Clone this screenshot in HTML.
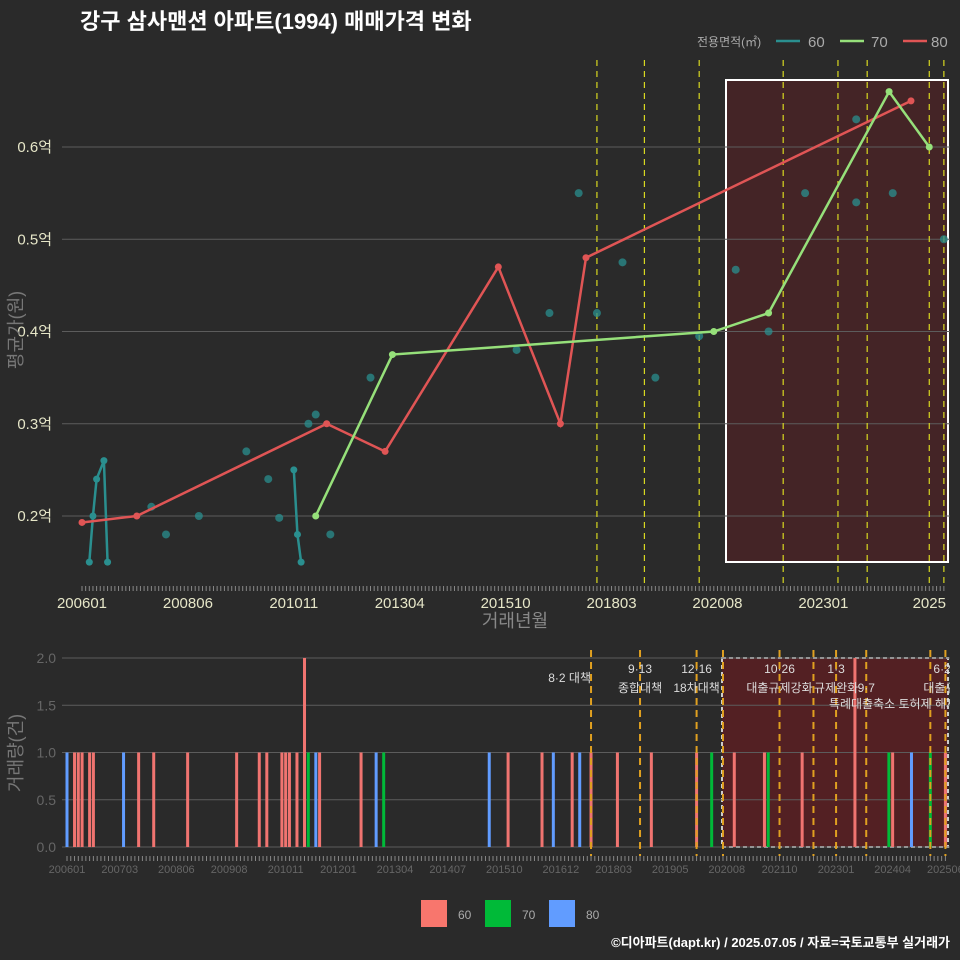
<!DOCTYPE html>
<html><head><meta charset="utf-8">
<style>
html,body{margin:0;padding:0;background:#2a2a2a;}
svg{display:block;font-family:"Liberation Sans","Noto Sans CJK KR",sans-serif;}
</style></head>
<body>
<svg id="c" width="960" height="960" viewBox="0 0 960 960">
<defs><clipPath id="clipb"><rect x="0" y="640" width="950" height="240"/></clipPath></defs>
<rect x="0" y="0" width="960" height="960" fill="#2a2a2a"/>
<text x="80" y="29" fill="#ffffff" font-size="22" font-weight="bold">강구 삼사맨션 아파트(1994) 매매가격 변화</text>
<g>
<text x="697" y="46" fill="#aaaaaa" font-size="12">전용면적(㎡)</text>
<line x1="776" y1="41" x2="800" y2="41" stroke="#2a8f8f" stroke-width="2.5"/>
<text x="808" y="47" fill="#aaaaaa" font-size="15">60</text>
<line x1="840" y1="41" x2="864" y2="41" stroke="#96e07a" stroke-width="2.5"/>
<text x="871" y="47" fill="#aaaaaa" font-size="15">70</text>
<line x1="903" y1="41" x2="927" y2="41" stroke="#e05555" stroke-width="2.5"/>
<text x="931" y="47" fill="#aaaaaa" font-size="15">80</text>
</g>
<g id="topg"></g>
<g id="botg"></g>
<text x="515" y="627" text-anchor="middle" fill="#888888" font-size="18">거래년월</text>
<text transform="translate(22,330) rotate(-90)" text-anchor="middle" fill="#777777" font-size="18">평균가(원)</text>
<text transform="translate(22,753) rotate(-90)" text-anchor="middle" fill="#777777" font-size="18">거래량(건)</text>
<g>
<rect x="421" y="900" width="26" height="27" fill="#f8766d"/>
<text x="458" y="919" fill="#aaaaaa" font-size="12">60</text>
<rect x="485" y="900" width="26" height="27" fill="#00ba38"/>
<text x="522" y="919" fill="#aaaaaa" font-size="12">70</text>
<rect x="549" y="900" width="26" height="27" fill="#619cff"/>
<text x="586" y="919" fill="#aaaaaa" font-size="12">80</text>
</g>
<text x="950" y="947" text-anchor="end" fill="#ffffff" font-size="13" font-weight="bold">©디아파트(dapt.kr) / 2025.07.05 / 자료=국토교통부 실거래가</text>
</svg>
<script>
const s80Months=[0,15,67,83,114,131,138,227];
const s80Values=[0.193,0.2,0.30,0.27,0.47,0.30,0.48,0.65];
const s70Months=[64,85,173,188,221,232];
const s70Values=[0.2,0.375,0.40,0.42,0.66,0.60];
const s60aMonths=[2,3,4,6,7];
const s60aValues=[0.15,0.2,0.24,0.26,0.15];
const s60bMonths=[58,59,60];
const s60bValues=[0.25,0.18,0.15];
const dotMonths=[19,23,32,45,51,54,62,64,68,79,119,128,136,141,148,157,169,179,188,198,212,212,222,236];
const dotValues=[0.21,0.18,0.2,0.27,0.24,0.198,0.3,0.31,0.18,0.35,0.38,0.42,0.55,0.42,0.475,0.35,0.395,0.467,0.40,0.55,0.63,0.54,0.55,0.50];
const yTicks=[0.2,0.3,0.4,0.5,0.6];
const yTickLabels=["0.2억","0.3억","0.4억","0.5억","0.6억"];
const xTickMonths=[0,29,58,87,116,145,174,203,232];
const xTickLabels=["200601","200806","201011","201304","201510","201803","202008","202301","2025"];
const policyTopMonths=[141,154,169,192,207,215,232,236];
const barMonths=[0,2,3,4,6,7,15,19,23,32,45,51,53,57,58,59,61,63,64,66,67,78,82,84,112,117,126,129,134,136,139,146,155,167,171,177,185,186,195,209,218,219,224,229,233];
const barCounts=[1,1,1,1,1,1,1,1,1,1,1,1,1,1,1,1,1,2,1,1,1,1,1,1,1,1,1,1,1,1,1,1,1,1,1,1,1,1,1,2,1,1,1,1,1];
const barTypes=["80","60","60","60","60","60","80","60","60","60","60","60","60","60","60","60","60","60","70","80","60","60","80","70","80","60","60","80","60","80","60","60","60","60","70","60","60","70","60","60","70","60","80","70","60"];
const volTicks=[0,0.5,1,1.5,2];
const volTickLabels=["0.0","0.5","1.0","1.5","2.0"];
const bxTickMonths=[0,14,29,43,58,72,87,101,116,131,145,160,175,189,204,219,233];
const bxTickLabels=["200601","200703","200806","200908","201011","201201","201304","201407","201510","201612","201803","201905","202008","202110","202301","202404","202506"];
const policyBotMonths=[139,152,167,174,189,198,204,212,229,233];
const annoMonths=[139,152,167,189,204,212,233];
const annoTop=["","9·13","12·16","10·26","1·3","","6·27"];
const annoBottom=["8·2 대책","종합대책","18차대책","대출규제강화","규제완화","9·7","대출규제"];

const NS="http://www.w3.org/2000/svg";
function mk(parent,tag,attrs){const e=document.createElementNS(NS,tag);for(const k in attrs)e.setAttribute(k,attrs[k]);parent.appendChild(e);return e;}
const tx=m=>82+3.652*m, ty=v=>516-(v-0.2)*922.5;
const bx=m=>67+3.77*m, by=v=>847-v*94.5;
const topG=document.getElementById('topg'), botG=document.getElementById('botg');

let r=mk(topG,'rect',{x:726,y:80,width:222,height:482,fill:'#5a1f22','fill-opacity':0.55,stroke:'#ffffff','stroke-width':2});


yTicks.forEach((v,i)=>{
  let l=mk(topG,'line',{x1:62,x2:950,y1:ty(v),y2:ty(v),stroke:'#5c5c5c','stroke-width':1});
  
  
  let t=mk(topG,'text',{x:52,y:ty(v)+5,'text-anchor':'end',fill:'#e6e6c8','font-size':15});
  t.textContent=yTickLabels[i];
  
  
});
for(let m=0;m<=236;m++){mk(topG,'line',{x1:tx(m),x2:tx(m),y1:586,y2:591,stroke:'#888','stroke-width':1});}
xTickMonths.forEach((m,i)=>{
  let t=mk(topG,'text',{x:tx(m),y:608,'text-anchor':'middle',fill:'#e6e6c8','font-size':15});
  t.textContent=xTickLabels[i];
  
  
});
policyTopMonths.forEach(m=>{
  let l=mk(topG,'line',{x1:tx(m),x2:tx(m),y1:60,y2:585,stroke:'#d8d820','stroke-width':1.2,'stroke-dasharray':'6,5'});
  
  
});
dotMonths.forEach((m,i)=>{
  let c=mk(topG,'circle',{cx:tx(m),cy:ty(dotValues[i]),r:4,fill:'#2a8f8f','fill-opacity':0.75});
  
  
});
function series(ms,vs,color,name){
  let p=mk(topG,'polyline',{points:ms.map((m,i)=>tx(m)+','+ty(vs[i])).join(' '),fill:'none',stroke:color,'stroke-width':2.5});
  
  
  ms.forEach((m,i)=>{let c=mk(topG,'circle',{cx:tx(m),cy:ty(vs[i]),r:3.5,fill:color});
    
    });
}
series(s60aMonths,s60aValues,'#2a8f8f','line-60a');
series(s60bMonths,s60bValues,'#2a8f8f','line-60b');
series(s80Months,s80Values,'#e05555','line-80');
series(s70Months,s70Values,'#96e07a','line-70');

let r2=mk(botG,'rect',{x:722,y:658,width:226,height:189,fill:'#5a1f22','fill-opacity':0.85,stroke:'#cccccc','stroke-width':2,'stroke-dasharray':'4,3'});


volTicks.forEach((v,i)=>{
  let l=mk(botG,'line',{x1:62,x2:950,y1:by(v),y2:by(v),stroke:'#5c5c5c','stroke-width':1});
  
  
  let t=mk(botG,'text',{x:56,y:by(v)+5,'text-anchor':'end',fill:'#666','font-size':14});
  t.textContent=volTickLabels[i];
  
  
});
for(let m=0;m<=233;m++){mk(botG,'line',{x1:bx(m),x2:bx(m),y1:856,y2:861,stroke:'#888','stroke-width':1});}
bxTickMonths.forEach((m,i)=>{
  let t=mk(botG,'text',{x:bx(m),y:873,'text-anchor':'middle',fill:'#666','font-size':11});
  t.textContent=bxTickLabels[i];
  
  
});
const colors={"60":"#f07470","70":"#00ba38","80":"#619cff"};
barMonths.forEach((m,i)=>{
  let h=barCounts[i]*94.5;
  let b=mk(botG,'rect',{x:bx(m)-1.5,y:847-h,width:3,height:h,fill:colors[barTypes[i]]});
  
  
});
policyBotMonths.forEach(m=>{
  let l=mk(botG,'line',{x1:bx(m),x2:bx(m),y1:650,y2:856,stroke:'#e0a020','stroke-width':2,'stroke-dasharray':'7,5'});
  
  
});
const annoG=mk(botG,'g',{'clip-path':'url(#clipb)'});


annoMonths.forEach((m,i)=>{
  let t1=mk(annoG,'text',{x:bx(m),y:673,'text-anchor':'middle',fill:'#dddddd','font-size':12});
  t1.textContent=annoTop[i];
  
  
  let t2=mk(annoG,'text',{x:bx(m),y:i==0?682:692,'text-anchor':i==0?'end':'middle',fill:'#dddddd','font-size':12});
  t2.textContent=annoBottom[i];
  
  
});
let t3=mk(annoG,'text',{x:893,y:708,'text-anchor':'middle',fill:'#dddddd','font-size':12});
t3.textContent='특례대출축소 토허제 해제';


</script>
</body></html>
